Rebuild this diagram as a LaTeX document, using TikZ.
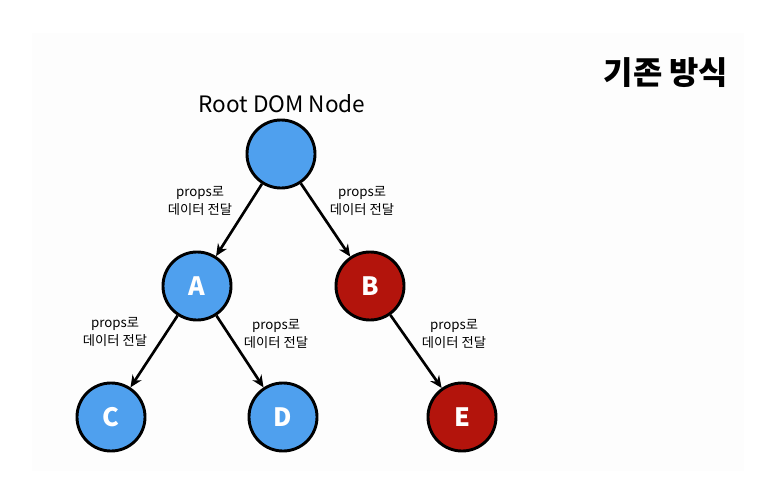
\documentclass[tikz,border=0pt]{standalone}
\usepackage{fontspec}
\setmainfont{Noto Sans CJK KR}
\usetikzlibrary{arrows.meta}
\definecolor{nodeblue}{HTML}{4FA0EE}
\definecolor{nodered}{HTML}{B3140C}
\definecolor{panel}{HTML}{FDFDFD}
\tikzset{
  dom/.style={circle,draw=black,line width=2.2pt,minimum size=1.8cm,inner sep=0pt,
    text=white,font=\fontsize{19}{19}\selectfont\bfseries},
  pass/.style={-{Stealth[length=9pt,width=8pt]},line width=2pt},
  lbl/.style={align=center,font=\fontsize{10}{13}\selectfont}
}
\begin{document}
\begin{tikzpicture}[x=0.02646cm,y=-0.02646cm]
\useasboundingbox[fill=white] (0,0) rectangle (758,496);
\fill[panel] (32,33) rectangle (744,471);
\node[font=\fontsize{24}{24}\selectfont\bfseries] (title) at (666,73) {기존 방식};
\node[font=\fontsize{17}{17}\selectfont] (rootname) at (282,104) {Root DOM Node};
% tree
\node[dom,fill=nodeblue] (root) at (281,154) {};
\node[dom,fill=nodeblue] (a) at (197,286) {A};
\node[dom,fill=nodered] (b) at (370,286) {B};
\node[dom,fill=nodeblue] (c) at (111,417) {C};
\node[dom,fill=nodeblue] (d) at (283,417) {D};
\node[dom,fill=nodered] (e) at (462,417) {E};
\draw[pass] (root) -- (a);
\draw[pass] (root) -- (b);
\draw[pass] (a) -- (c);
\draw[pass] (a) -- (d);
\draw[pass] (b) -- (e);
% labels
\node[lbl] (l1) at (200,201) {props로\\데이터 전달};
\node[lbl] (l2) at (362,201) {props로\\데이터 전달};
\node[lbl] (l3) at (115,332) {props로\\데이터 전달};
\node[lbl] (l4) at (276,334) {props로\\데이터 전달};
\node[lbl] (l5) at (454,334) {props로\\데이터 전달};
\end{tikzpicture}
\end{document}
